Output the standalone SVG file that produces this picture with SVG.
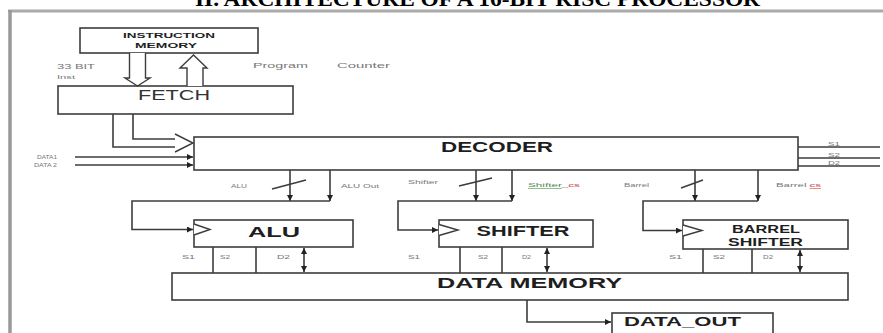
<svg xmlns="http://www.w3.org/2000/svg" width="883" height="333" viewBox="0 0 883 333">
<style>
.box{fill:#fff;stroke:#3c3c3c;stroke-width:1.6}
.ln{fill:none;stroke:#3c3c3c;stroke-width:1.6}
.hollow{fill:#fff;stroke:#3c3c3c;stroke-width:1.4}
.big{font-family:"Liberation Sans",Arial,sans-serif;font-weight:bold;fill:#1e1e1e}
.reg{font-family:"Liberation Sans",Arial,sans-serif;fill:#333}
.sm{font-family:"Liberation Sans",Arial,sans-serif;fill:#777}
.title{font-family:"Liberation Serif","Times New Roman",serif;font-weight:bold;fill:#000}
</style>
<defs>
<marker id="ah" viewBox="0 0 10 10" refX="10" refY="5" markerWidth="6" markerHeight="6" markerUnits="userSpaceOnUse" orient="auto-start-reverse">
<path d="M0,0 L10,5 L0,10 z" fill="#222"/>
</marker>
</defs>
<rect width="883" height="333" fill="#fff"/>
<text class="title" x="195" y="6" font-size="20" textLength="565" lengthAdjust="spacingAndGlyphs">II. ARCHITECTURE OF A 16-BIT RISC PROCESSOR</text>
<g id="frame">
<line x1="8" y1="11" x2="883" y2="11" stroke="#aaa" stroke-width="3"/>
<line x1="10" y1="10" x2="10" y2="333" stroke="#999" stroke-width="3.5"/>
</g>

<g id="instruction-memory">
<rect class="box" x="80" y="28" width="178" height="25"/>
<text class="big" x="169" y="37.5" font-size="7" text-anchor="middle" textLength="92" lengthAdjust="spacingAndGlyphs">INSTRUCTION</text>
<text class="big" x="166" y="47.5" font-size="7" text-anchor="middle" textLength="62" lengthAdjust="spacingAndGlyphs">MEMORY</text>
</g>

<g id="fetch">
<rect class="box" x="58" y="86" width="235" height="28"/>
<text class="reg" x="174" y="100" font-size="14" text-anchor="middle" textLength="72" lengthAdjust="spacingAndGlyphs">FETCH</text>
</g>

<g id="decoder">
<rect class="box" x="194" y="137" width="604" height="33"/>
<text class="big" x="497" y="152" font-size="14" text-anchor="middle" textLength="112" lengthAdjust="spacingAndGlyphs">DECODER</text>
</g>

<g id="alu">
<rect class="box" x="194" y="220" width="159" height="27"/>
<path class="hollow" d="M194,224 L210,229.5 L194,235"/>
<text class="big" x="274" y="237" font-size="15" text-anchor="middle" textLength="52" lengthAdjust="spacingAndGlyphs">ALU</text>
</g>

<g id="shifter">
<rect class="box" x="439" y="220" width="154" height="27"/>
<path class="hollow" d="M439,224.5 L458,230 L439,235.5"/>
<text class="big" x="523" y="236" font-size="14" text-anchor="middle" textLength="93" lengthAdjust="spacingAndGlyphs">SHIFTER</text>
</g>

<g id="barrel-shifter">
<rect class="box" x="683" y="220" width="165" height="29"/>
<path class="hollow" d="M683,225 L702,230.5 L683,236"/>
<text class="big" x="766" y="233" font-size="10" text-anchor="middle" textLength="68" lengthAdjust="spacingAndGlyphs">BARREL</text>
<text class="big" x="765.5" y="245.5" font-size="10" text-anchor="middle" textLength="75" lengthAdjust="spacingAndGlyphs">SHIFTER</text>
</g>

<g id="data-memory">
<rect class="box" x="172" y="273" width="676" height="27"/>
<text class="big" x="529.5" y="288" font-size="14" text-anchor="middle" textLength="185" lengthAdjust="spacingAndGlyphs">DATA MEMORY</text>
</g>

<g id="data-out">
<rect class="box" x="612" y="313" width="161" height="30"/>
<text class="big" x="682.5" y="326" font-size="13" text-anchor="middle" textLength="117" lengthAdjust="spacingAndGlyphs">DATA_OUT</text>
</g>

<g id="connectors">
<!-- instruction memory <-> fetch fat arrows -->
<path class="hollow" d="M129.5,53 L129.5,78 L125,78 L137.5,86 L150,78 L145.5,78 L145.5,53"/>
<path class="hollow" d="M187,86 L187,68 L180,68 L193.5,55 L207,68 L203,68 L203,86"/>
<!-- fetch -> decoder fat L arrow -->
<path class="ln" d="M113,114 L113,147 L175,147"/>
<path class="ln" d="M133,114 L133,139 L175,139"/>
<path class="hollow" d="M175,134 L193,143 L175,152"/>
<!-- data inputs -->
<line class="ln" x1="75" y1="157" x2="193" y2="157" marker-end="url(#ah)" stroke-width="1.2"/>
<line class="ln" x1="75" y1="165" x2="193" y2="165" marker-end="url(#ah)" stroke-width="1.2"/>
<!-- decoder outputs right -->
<line class="ln" x1="798" y1="147" x2="880" y2="147" stroke-width="1.2"/>
<line class="ln" x1="798" y1="158" x2="880" y2="158" stroke-width="1.2"/>
<line class="ln" x1="798" y1="166" x2="880" y2="166" stroke-width="1.2"/>
<!-- ALU control -->
<line class="ln" x1="290" y1="170" x2="290" y2="201" marker-end="url(#ah)"/>
<line class="ln" x1="330" y1="170" x2="330" y2="201" marker-end="url(#ah)"/>
<line class="ln" x1="272" y1="189" x2="306" y2="180" stroke-width="1.2"/>
<path class="ln" d="M330,201 L132,201 L132,229.5 L193,229.5" marker-end="url(#ah)"/>
<!-- Shifter control -->
<line class="ln" x1="476" y1="170" x2="476" y2="201" marker-end="url(#ah)"/>
<line class="ln" x1="512" y1="170" x2="512" y2="201" marker-end="url(#ah)"/>
<line class="ln" x1="459" y1="186" x2="492" y2="178" stroke-width="1.2"/>
<path class="ln" d="M512,201 L398,201 L398,230 L438,230" marker-end="url(#ah)"/>
<!-- Barrel control -->
<line class="ln" x1="695" y1="170" x2="695" y2="201" marker-end="url(#ah)"/>
<line class="ln" x1="758" y1="170" x2="758" y2="201" marker-end="url(#ah)"/>
<line class="ln" x1="681" y1="188" x2="703" y2="180" stroke-width="1.2"/>
<path class="ln" d="M758,201 L643,201 L643,230.5 L682,230.5" marker-end="url(#ah)"/>
<!-- unit to data memory -->
<line class="ln" x1="213" y1="247" x2="213" y2="273"/>
<line class="ln" x1="256" y1="247" x2="256" y2="273"/>
<line class="ln" x1="304" y1="248" x2="304" y2="272" marker-start="url(#ah)" marker-end="url(#ah)" stroke-width="1.2"/>
<line class="ln" x1="460" y1="247" x2="460" y2="273"/>
<line class="ln" x1="502" y1="247" x2="502" y2="273"/>
<line class="ln" x1="547" y1="248" x2="547" y2="272" marker-start="url(#ah)" marker-end="url(#ah)" stroke-width="1.2"/>
<line class="ln" x1="703" y1="249" x2="703" y2="273"/>
<line class="ln" x1="752" y1="249" x2="752" y2="273"/>
<line class="ln" x1="800" y1="250" x2="800" y2="272" marker-start="url(#ah)" marker-end="url(#ah)" stroke-width="1.2"/>
<!-- data memory -> data out -->
<path class="ln" d="M527,300 L527,322 L611,322" marker-end="url(#ah)"/>
</g>

<g id="labels">
<text class="sm" x="57" y="69" font-size="7" textLength="38" lengthAdjust="spacingAndGlyphs">33 BIT</text>
<text class="sm" x="57" y="79" font-size="6" textLength="18" lengthAdjust="spacingAndGlyphs">Inst</text>
<text class="sm" x="253" y="68" font-size="7" textLength="55" lengthAdjust="spacingAndGlyphs">Program</text>
<text class="sm" x="337" y="68" font-size="7" textLength="53" lengthAdjust="spacingAndGlyphs">Counter</text>
<text class="sm" x="37" y="159" font-size="5" textLength="20" lengthAdjust="spacingAndGlyphs">DATA1</text>
<text class="sm" x="34" y="167" font-size="5" textLength="23" lengthAdjust="spacingAndGlyphs">DATA 2</text>
<text class="sm" x="828" y="146" font-size="5" textLength="12" lengthAdjust="spacingAndGlyphs">S1</text>
<text class="sm" x="828" y="156.5" font-size="5" textLength="12" lengthAdjust="spacingAndGlyphs">S2</text>
<text class="sm" x="828" y="164.5" font-size="5" textLength="12" lengthAdjust="spacingAndGlyphs">D2</text>
<text class="sm" x="231" y="188" font-size="6" textLength="16" lengthAdjust="spacingAndGlyphs">ALU</text>
<text class="sm" x="341" y="188" font-size="6" textLength="38" lengthAdjust="spacingAndGlyphs">ALU Out</text>
<text class="sm" x="408" y="184" font-size="6" textLength="30" lengthAdjust="spacingAndGlyphs">Shifter</text>
<text x="528" y="187" font-size="6" font-family="Liberation Sans,Arial,sans-serif" textLength="52" lengthAdjust="spacingAndGlyphs"><tspan fill="#4f8a4f" text-decoration="underline">Shifter</tspan><tspan fill="#c44">_cs</tspan></text>
<text class="sm" x="624" y="187" font-size="6" textLength="25" lengthAdjust="spacingAndGlyphs">Barrel</text>
<text x="776" y="187" font-size="6" font-family="Liberation Sans,Arial,sans-serif" textLength="45" lengthAdjust="spacingAndGlyphs"><tspan fill="#777">Barrel </tspan><tspan fill="#c44" text-decoration="underline">cs</tspan></text>
<text class="sm" x="182" y="259" font-size="5" textLength="13" lengthAdjust="spacingAndGlyphs">S1</text>
<text class="sm" x="220" y="259" font-size="5" textLength="10" lengthAdjust="spacingAndGlyphs">S2</text>
<text class="sm" x="277" y="259" font-size="5" textLength="13" lengthAdjust="spacingAndGlyphs">D2</text>
<text class="sm" x="408" y="259" font-size="5" textLength="12" lengthAdjust="spacingAndGlyphs">S1</text>
<text class="sm" x="478" y="259" font-size="5" textLength="10" lengthAdjust="spacingAndGlyphs">S2</text>
<text class="sm" x="522" y="259" font-size="5" textLength="9" lengthAdjust="spacingAndGlyphs">D2</text>
<text class="sm" x="669" y="259" font-size="5" textLength="13" lengthAdjust="spacingAndGlyphs">S1</text>
<text class="sm" x="713" y="259" font-size="5" textLength="12" lengthAdjust="spacingAndGlyphs">S2</text>
<text class="sm" x="763" y="259" font-size="5" textLength="10" lengthAdjust="spacingAndGlyphs">D2</text>
</g>
</svg>
